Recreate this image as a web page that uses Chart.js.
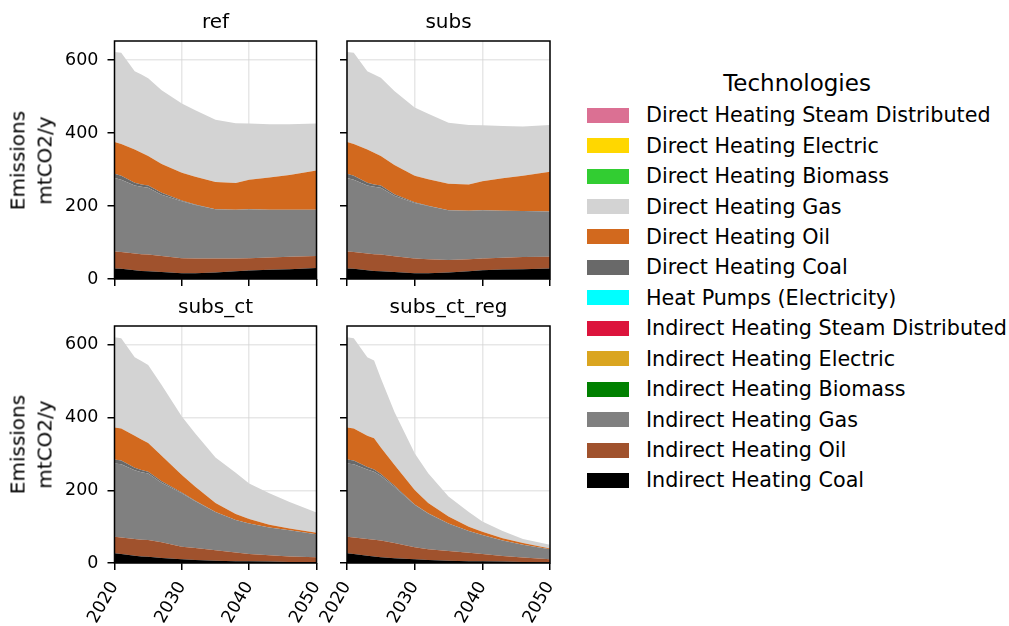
<!DOCTYPE html>
<html>
<head>
<meta charset="utf-8">
<script src="https://cdn.jsdelivr.net/npm/chart.js@4"></script>
<style>
  body { margin: 0; background: #fff; width: 1009px; height: 626px; overflow: hidden; position: relative; font-family: 'DejaVu Sans', sans-serif; color: #000; }
  .panel { position: absolute; }
  .ptitle { position: absolute; font-size: 20px; line-height: 24px; width: 200px; text-align: center; white-space: nowrap; }
  .ylab { position: absolute; font-size: 20px; line-height: 26.5px; width: 200px; text-align: center; transform: rotate(-90deg); white-space: nowrap; }
  .sw { position: absolute; left: 587px; width: 42px; height: 15px; }
  .lt { position: absolute; left: 646px; font-size: 20.7px; line-height: 24px; white-space: nowrap; }
  #legtitle { position: absolute; left: 697px; width: 200px; text-align: center; font-size: 23px; line-height: 26px; top: 70px; }
</style>
</head>
<body>
<div id="root"></div>
<script>
// years
const years = [2020, 2021, 2023, 2024, 2025, 2027, 2030, 2032, 2035, 2038, 2040, 2043, 2046, 2050];

const scenarios = ['ref', 'subs', 'subs_ct', 'subs_ct_reg'];

// stack order, bottom to top
const technologies = [
    'Indirect Heating Coal',
    'Indirect Heating Oil',
    'Indirect Heating Gas',
    'Indirect Heating Biomass',
    'Indirect Heating Electric',
    'Indirect Heating Steam Distributed',
    'Heat Pumps (Electricity)',
    'Direct Heating Coal',
    'Direct Heating Oil',
    'Direct Heating Gas',
    'Direct Heating Biomass',
    'Direct Heating Electric',
    'Direct Heating Steam Distributed'
];

const techColors = [
    '#000000', '#a0522d', '#808080', '#008000', '#daa520', '#dc143c', '#00ffff',
    '#696969', '#d2691e', '#d3d3d3', '#32cd32', '#ffd700', '#db7093'
];

// emissions in mtCO2/y
const noEmissions = [0, 0, 0, 0, 0, 0, 0, 0, 0, 0, 0, 0, 0, 0];

const refIndCoal = [29, 28, 24, 22, 21, 19, 16, 16, 18, 21, 23, 25, 27, 30];
const refIndOil  = [46, 46, 46, 46, 46, 44, 41, 40, 38, 35, 34, 34, 34, 33];
const refIndGas  = [202, 198, 186, 185, 183, 168, 156, 147, 135, 134, 134, 131, 129, 127];
const refDirCoal = [11, 11, 8, 6, 6, 5, 2, 1, 0, 0, 0, 0, 0, 0];
const refDirOil  = [87, 87, 91, 87, 81, 79, 76, 76, 75, 73, 81, 88, 95, 107];
const refDirGas  = [247, 250, 214, 214, 213, 202, 190, 182, 170, 164, 154, 146, 139, 129];

const subsIndCoal = [29, 28, 24, 22, 21, 19, 16, 16, 18, 21, 24, 26, 27, 29];
const subsIndOil  = [46, 46, 46, 46, 46, 43, 40, 38, 34, 33, 32, 32, 33, 32];
const subsIndGas  = [202, 198, 186, 185, 183, 166, 152, 146, 136, 133, 132, 129, 126, 124];
const subsDirCoal = [11, 11, 8, 6, 6, 4, 2, 1, 0, 0, 0, 0, 0, 0];
const subsDirOil  = [87, 87, 91, 87, 81, 80, 73, 72, 73, 72, 80, 89, 97, 109];
const subsDirGas  = [247, 250, 214, 214, 214, 203, 187, 180, 167, 163, 153, 143, 135, 128];

const ctIndCoal = [27, 25, 20, 18, 17, 14, 10, 8, 6, 5, 5, 4, 3, 3];
const ctIndOil  = [45, 45, 46, 46, 46, 43, 35, 33, 29, 24, 20, 17, 15, 13];
const ctIndGas  = [202, 202, 189, 186, 183, 164, 147, 129, 105, 89, 84, 77, 72, 63];
const ctDirCoal = [11, 10, 7, 6, 5, 4, 2, 1, 0, 0, 0, 0, 0, 0];
const ctDirOil  = [88, 88, 88, 84, 79, 70, 48, 39, 25, 17, 12, 7, 5, 4];
const ctDirGas  = [248, 248, 216, 216, 215, 195, 161, 146, 125, 113, 98, 87, 73, 56];

const regIndCoal = [27, 25, 20, 18, 16, 13, 10, 8, 6, 5, 5, 4, 3, 2];
const regIndOil  = [45, 45, 46, 46, 46, 42, 33, 30, 27, 23, 20, 15, 12, 8];
const regIndGas  = [202, 202, 191, 187, 178, 155, 117, 98, 76, 60, 52, 43, 35, 28];
const regDirCoal = [11, 10, 7, 6, 5, 3, 1, 1, 0, 0, 0, 0, 0, 0];
const regDirOil  = [88, 88, 86, 86, 73, 57, 40, 28, 19, 12, 9, 6, 5, 2];
const regDirGas  = [248, 248, 216, 214, 190, 146, 101, 82, 55, 40, 28, 20, 11, 10];

const yTicks = [0, 200, 400, 600];
const xTicks = [2020, 2030, 2040, 2050];

const scenarioSeries = {
    ref: [refIndCoal, refIndOil, refIndGas, noEmissions, noEmissions, noEmissions, noEmissions, refDirCoal, refDirOil, refDirGas, noEmissions, noEmissions, noEmissions],
    subs: [subsIndCoal, subsIndOil, subsIndGas, noEmissions, noEmissions, noEmissions, noEmissions, subsDirCoal, subsDirOil, subsDirGas, noEmissions, noEmissions, noEmissions],
    subs_ct: [ctIndCoal, ctIndOil, ctIndGas, noEmissions, noEmissions, noEmissions, noEmissions, ctDirCoal, ctDirOil, ctDirGas, noEmissions, noEmissions, noEmissions],
    subs_ct_reg: [regIndCoal, regIndOil, regIndGas, noEmissions, noEmissions, noEmissions, noEmissions, regDirCoal, regDirOil, regDirGas, noEmissions, noEmissions, noEmissions]
};

// layout of the 2x2 grid (canvas boxes)
const panels = [
    { left: 0,   top: 0,   w: 330, h: 290, yW: 114.5, xH: 11, padTop: 41, padRight: 13.5, showY: true,  showX: false },
    { left: 300, top: 0,   w: 265, h: 290, yW: 47,    xH: 11, padTop: 41, padRight: 15,   showY: false, showX: false },
    { left: 0,   top: 290, w: 330, h: 336, yW: 114.5, xH: 63, padTop: 36, padRight: 13.5, showY: true,  showX: true },
    { left: 300, top: 290, w: 265, h: 336, yW: 47,    xH: 63, padTop: 36, padRight: 15,   showY: false, showX: true }
];

const tickFont = { family: 'DejaVu Sans', size: 17.5 };
const gridColor = 'rgba(212,212,212,0.55)';

const boxPlugin = {
    id: 'axesBox',
    afterDraw(chart) {
        const a = chart.chartArea;
        const ctx = chart.ctx;
        ctx.save();
        ctx.strokeStyle = '#000';
        ctx.lineWidth = 1.5;
        ctx.strokeRect(a.left, a.top, a.right - a.left, a.bottom - a.top);
        ctx.restore();
    }
};

function noPad(s) {
    s.paddingLeft = 0;
    s.paddingRight = 0;
    s.paddingTop = 0;
    s.paddingBottom = 0;
}

const root = document.getElementById('root');

scenarios.forEach((name, p) => {
    const pos = panels[p];
    const wrap = document.createElement('div');
    wrap.className = 'panel';
    wrap.style.left = pos.left + 'px';
    wrap.style.top = pos.top + 'px';
    const canvas = document.createElement('canvas');
    canvas.width = pos.w;
    canvas.height = pos.h;
    wrap.appendChild(canvas);
    root.appendChild(wrap);

    const datasets = technologies.map((tech, i) => ({
        label: tech,
        data: scenarioSeries[name][i],
        backgroundColor: techColors[i],
        borderColor: 'transparent',
        borderWidth: 0,
        pointRadius: 0,
        pointHitRadius: 0,
        tension: 0,
        fill: i === 0 ? 'origin' : '-1'
    }));

    new Chart(canvas, {
        type: 'line',
        data: { labels: years, datasets: datasets },
        plugins: [boxPlugin],
        options: {
            responsive: false,
            animation: false,
            layout: { autoPadding: false, padding: { top: pos.padTop, right: pos.padRight, left: 0, bottom: 0 } },
            plugins: { legend: { display: false }, tooltip: { enabled: false }, title: { display: false } },
            scales: {
                x: {
                    type: 'linear',
                    min: 2020,
                    max: 2050,
                    z: 1,
                    afterBuildTicks: s => { s.ticks = xTicks.map(v => ({ value: v })); },
                    afterFit: s => { s.height = pos.xH; noPad(s); },
                    border: { display: false },
                    grid: { color: gridColor, lineWidth: 1.5, tickColor: '#000', tickWidth: 1.5, tickLength: 7 },
                    ticks: {
                        display: pos.showX,
                        autoSkip: false,
                        minRotation: 60,
                        maxRotation: 60,
                        padding: 8,
                        color: '#000',
                        font: tickFont,
                        callback: v => String(v)
                    }
                },
                y: {
                    type: 'linear',
                    stacked: true,
                    min: 0,
                    max: 652,
                    z: 1,
                    afterBuildTicks: s => { s.ticks = yTicks.map(v => ({ value: v })); },
                    afterFit: s => { s.width = pos.yW; noPad(s); },
                    border: { display: false },
                    grid: { color: gridColor, lineWidth: 1.5, tickColor: '#000', tickWidth: 1.5, tickLength: 7 },
                    ticks: {
                        padding: 9,
                        color: '#000',
                        font: tickFont,
                        callback: v => pos.showY ? String(v) : ''
                    }
                }
            }
        }
    });

    // panel title
    const t = document.createElement('div');
    t.className = 'ptitle';
    t.textContent = name;
    const areaLeft = pos.left + pos.yW;
    const areaRight = pos.left + pos.w - pos.padRight;
    t.style.left = ((areaLeft + areaRight) / 2 - 100) + 'px';
    t.style.top = (pos.top + pos.padTop - 32) + 'px';
    root.appendChild(t);

    if (pos.showY) {
        const yl = document.createElement('div');
        yl.className = 'ylab';
        yl.innerHTML = 'Emissions<br>mtCO2/y';
        const areaTop = pos.top + pos.padTop;
        const areaBottom = pos.top + pos.h - pos.xH;
        yl.style.left = (31.3 - 100) + 'px';
        yl.style.top = ((areaTop + areaBottom) / 2 - 26.5) + 'px';
        root.appendChild(yl);
    }
});

// legend, top entry = top of the stack
const legTitle = document.createElement('div');
legTitle.id = 'legtitle';
legTitle.textContent = 'Technologies';
root.appendChild(legTitle);

technologies.slice().reverse().forEach((tech, i) => {
    const color = techColors[technologies.length - 1 - i];
    const cy = 115.2 + i * 30.44;
    const sw = document.createElement('div');
    sw.className = 'sw';
    sw.style.top = (cy - 7.5) + 'px';
    sw.style.background = color;
    root.appendChild(sw);
    const lt = document.createElement('div');
    lt.className = 'lt';
    lt.style.top = (cy - 12) + 'px';
    lt.textContent = tech;
    root.appendChild(lt);
});
</script>
</body>
</html>
